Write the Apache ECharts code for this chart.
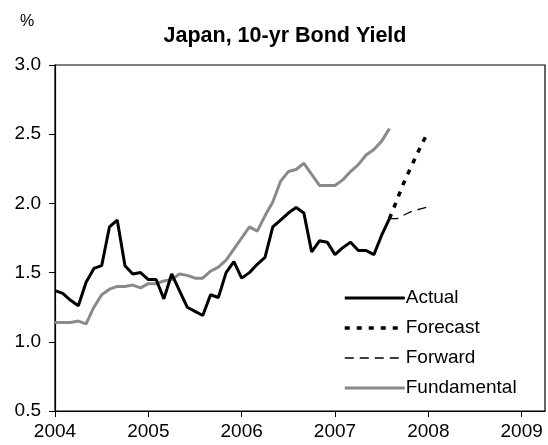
<!DOCTYPE html>
<html>
<head>
<meta charset="utf-8">
<script src="https://cdn.jsdelivr.net/npm/echarts@6/dist/echarts.min.js"></script>
<style>
  html, body { margin: 0; padding: 0; background: #ffffff; }
  #chart { width: 548px; height: 445px; }
</style>
</head>
<body>
<div id="chart"></div>
<script>
// monthly data, first point = Jan 2004
const startYear = 2004
const actual = [
  1.37, 1.35, 1.30, 1.26, 1.43, 1.53, 1.55, 1.83, 1.88, 1.55, 1.49, 1.50,
  1.45, 1.45, 1.31, 1.49, 1.37, 1.25, 1.22, 1.19, 1.34, 1.32, 1.50, 1.58,
  1.46, 1.50, 1.56, 1.61, 1.83, 1.88, 1.93, 1.97, 1.93, 1.65, 1.73, 1.72,
  1.63, 1.68, 1.72, 1.66, 1.66, 1.63, 1.77, 1.89
]
const fundamental = [
  1.14, 1.14, 1.14, 1.15, 1.13, 1.25, 1.34, 1.38, 1.40, 1.40, 1.41, 1.39,
  1.42, 1.42, 1.44, 1.45, 1.49, 1.48, 1.46, 1.46, 1.51, 1.54, 1.59, 1.67,
  1.75, 1.83, 1.80, 1.91, 2.01, 2.16, 2.23, 2.245, 2.29, 2.21, 2.13, 2.13,
  2.13, 2.17, 2.23, 2.28, 2.35, 2.39, 2.45, 2.54
]
// forecast and forward start at the last actual month
const forecastStart = 43
const forecast = [1.89, 2.03, 2.17, 2.29, 2.41, 2.52]
const forward = [1.89, 1.89, 1.92, 1.945, 1.96, 1.975]
const yearTicks = [2004, 2005, 2006, 2007, 2008, 2009]

const font = 'Liberation Sans, Arial, sans-serif'

function toPoints(values, offset) {
  return values.map((v, i) => [startYear + (offset + i) / 12, v])
}

function lineSeries(name, data, lineStyle) {
  return {
    name: name,
    type: 'line',
    data: data,
    symbol: 'none',
    animation: false,
    itemStyle: { color: lineStyle.color },
    lineStyle: lineStyle,
    z: name === 'Actual' ? 4 : 3
  }
}

const chart = echarts.init(document.getElementById('chart'))
chart.setOption({
  backgroundColor: '#ffffff',
  title: [
    {
      text: 'Japan, 10-yr Bond Yield',
      left: 285,
      top: 25,
      textAlign: 'center',
      padding: 0,
      textStyle: { fontFamily: font, fontSize: 21.5, fontWeight: 'bold', color: '#000' }
    },
    {
      text: '%',
      left: 20,
      top: 14,
      padding: 0,
      textStyle: { fontFamily: font, fontSize: 16, fontWeight: 'normal', color: '#000' }
    }
  ],
  legend: {
    orient: 'vertical',
    left: 343,
    top: 288,
    itemWidth: 60,
    itemHeight: 14,
    itemGap: 10,
    padding: 0,
    selectedMode: false,
    itemStyle: { opacity: 0 },
    lineStyle: { width: 'inherit' },
    textStyle: { fontFamily: font, fontSize: 19, color: '#000', lineHeight: 20, padding: [0, 0, 0, -4] },
    data: ['Actual', 'Forecast', 'Forward', 'Fundamental']
  },
  grid: {
    left: 55,
    right: 3,
    top: 65,
    bottom: 34,
    show: true,
    borderColor: '#000',
    borderWidth: 1.2
  },
  xAxis: {
    type: 'value',
    min: 2004,
    max: 2009.25,
    interval: 1,
    axisLine: { show: true, lineStyle: { color: '#000', width: 1.2 } },
    axisTick: { show: true, inside: false, length: 6, lineStyle: { color: '#000' }, customValues: yearTicks },
    axisLabel: {
      fontFamily: font, fontSize: 19, color: '#000', margin: 11, customValues: yearTicks,
      formatter: v => String(v)
    },
    splitLine: { show: false }
  },
  yAxis: {
    type: 'value',
    min: 0.5,
    max: 3.0,
    interval: 0.5,
    axisLine: { show: true, lineStyle: { color: '#000', width: 1.2 } },
    axisTick: { show: true, inside: false, length: 6, lineStyle: { color: '#000' } },
    axisLabel: {
      fontFamily: font, fontSize: 19, color: '#000', margin: 14,
      formatter: v => v.toFixed(1)
    },
    splitLine: { show: false }
  },
  series: [
    lineSeries('Actual', toPoints(actual, 0), { color: '#000', width: 3 }),
    lineSeries('Forecast', toPoints(forecast, forecastStart), { color: '#000', width: 3.5, type: [5, 7], cap: 'butt' }),
    lineSeries('Forward', toPoints(forward, forecastStart), { color: '#000', width: 1.3, type: [9, 6] }),
    lineSeries('Fundamental', toPoints(fundamental, 0), { color: '#8a8a8a', width: 3 })
  ]
})
</script>
</body>
</html>
